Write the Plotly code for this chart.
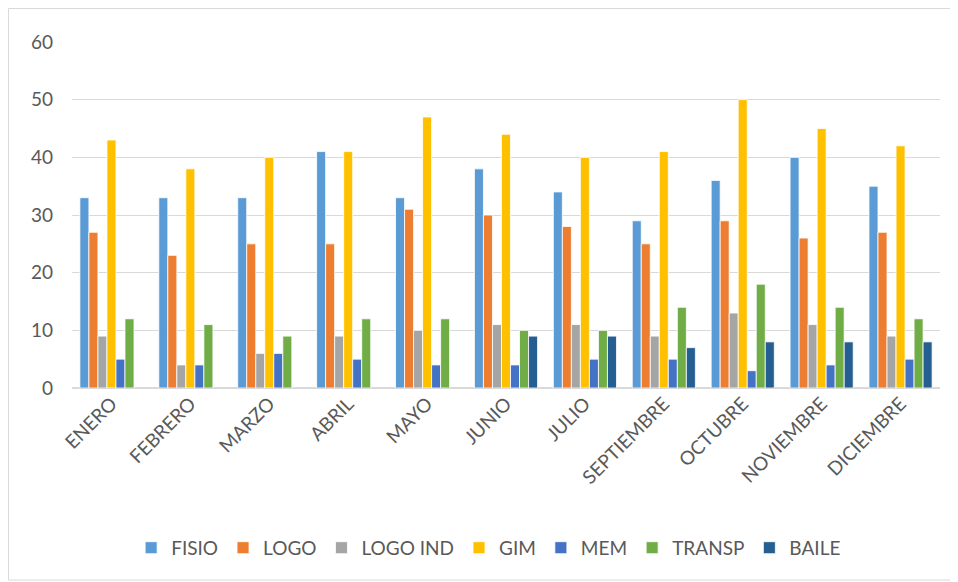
import plotly.graph_objects as go

months = ["ENERO", "FEBRERO", "MARZO", "ABRIL", "MAYO", "JUNIO", "JULIO",
          "SEPTIEMBRE", "OCTUBRE", "NOVIEMBRE", "DICIEMBRE"]

fisio    = [33, 33, 33, 41, 33, 38, 34, 29, 36, 40, 35]
logo     = [27, 23, 25, 25, 31, 30, 28, 25, 29, 26, 27]
logo_ind = [9, 4, 6, 9, 10, 11, 11, 9, 13, 11, 9]
gim      = [43, 38, 40, 41, 47, 44, 40, 41, 50, 45, 42]
mem      = [5, 4, 6, 5, 4, 4, 5, 5, 3, 4, 5]
transp   = [12, 11, 9, 12, 12, 10, 10, 14, 18, 14, 12]
baile    = [None, None, None, None, None, 9, 9, 7, 8, 8, 8]

series = [
    ("FISIO", fisio, "#5B9BD5"),
    ("LOGO", logo, "#ED7D31"),
    ("LOGO IND", logo_ind, "#A5A5A5"),
    ("GIM", gim, "#FFC000"),
    ("MEM", mem, "#4472C4"),
    ("TRANSP", transp, "#70AD47"),
    ("BAILE", baile, "#255E91"),
]

FONT = "Lato, 'Liberation Sans', sans-serif"
TXT = "#595959"

fig = go.Figure()
for name, vals, col in series:
    fig.add_trace(go.Bar(
        name=name, x=months, y=vals,
        marker=dict(color=col, line=dict(color="white", width=0.8)),
    ))

# page body adds an 8px offset; margins compensate so the plot area lands at x 72..940, y 42..388
fig.update_layout(
    width=958, height=582,
    barmode="group", bargap=0.2, bargroupgap=0.0,
    plot_bgcolor="white", paper_bgcolor="white",
    margin=dict(l=64, r=26, t=34, b=202),
    font=dict(family=FONT, color=TXT, size=19),
    showlegend=True,
    legend=dict(orientation="h", x=0.48, xanchor="center", y=-0.462, yanchor="middle",
                font=dict(size=19, color=TXT), traceorder="normal"),
    xaxis=dict(tickangle=-45, tickfont=dict(size=19, color=TXT), showgrid=False,
               showline=False, ticks="", automargin=False),
    yaxis=dict(range=[0, 60], dtick=10, showgrid=True, gridcolor="#D9D9D9", gridwidth=1,
               zeroline=True, zerolinecolor="#D9D9D9", zerolinewidth=2,
               tickfont=dict(size=19, color=TXT), ticks="", showline=False,
               ticklabelstandoff=18, automargin=False),
    shapes=[dict(type="rect", xref="paper", yref="paper",
                 x0=-0.0732, x1=1.0173, y0=-0.555, y1=1.0968,
                 line=dict(color="#D9D9D9", width=1), fillcolor="rgba(0,0,0,0)")],
)

fig.write_html("out.html")
